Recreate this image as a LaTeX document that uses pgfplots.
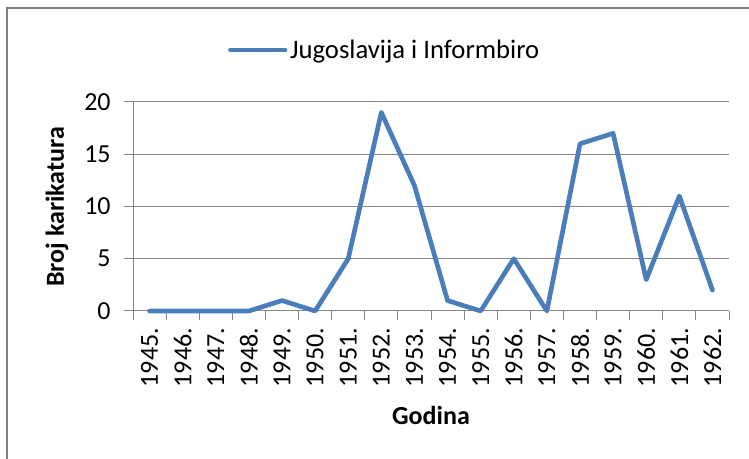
\documentclass[border=0pt]{standalone}
\usepackage{pgfplots}
\pgfplotsset{compat=1.18}
\usepackage{fontspec}
\setmainfont{Carlito}
\definecolor{serblue}{RGB}{74,126,187}
\definecolor{gridgray}{RGB}{134,134,134}
\definecolor{framegray}{RGB}{128,128,128}
\begin{document}
\begin{tikzpicture}
\useasboundingbox (0,0) rectangle (561.75pt,344.25pt);
\draw[framegray, line width=1.5pt] (5.25pt,-2pt) -- (5.25pt,338.25pt) -- (564pt,338.25pt);
\begin{axis}[
  at={(99.75pt,111pt)}, anchor=south west,
  scale only axis, width=447pt, height=156.75pt,
  xmin=-0.5, xmax=17.5, ymin=0, ymax=20,
  axis lines=left, axis line style={-, gridgray, line width=0.75pt},
  clip=false,
  xtick={-0.5,0.5,...,17.5},
  x tick label as interval,
  xticklabels={1945.,1946.,1947.,1948.,1949.,1950.,1951.,1952.,1953.,1954.,1955.,1956.,1957.,1958.,1959.,1960.,1961.,1962.},
  ytick={0,5,10,15,20},
  tick align=outside, major tick length=6.75pt,
  tick style={gridgray, line width=0.75pt},
  ymajorgrids, grid style={gridgray, line width=0.75pt},
  /pgf/number format/assume math mode=true,
  ticklabel style={font=\fontsize{19.5}{23}\selectfont},
  xticklabel style={yshift=-2.5pt, rotate=90, anchor=east},
  yticklabel style={xshift=-6.5pt},
  xlabel={Godina}, ylabel={Broj karikatura},
  label style={font=\fontsize{19.5}{23}\selectfont\bfseries},
  xlabel style={at={(axis description cs:0.5,-0.4976)}, anchor=center},
  ylabel style={at={(axis description cs:-0.1275,0.4976)}, anchor=center, rotate=0},
  legend style={draw=none, at={(axis description cs:0.4228,1.249)}, anchor=center,
    font=\fontsize{20}{24}\selectfont, inner sep=0pt},
  legend image code/.code={\draw[#1] (0pt,0pt) -- (41pt,0pt);},
]
\addplot[serblue, line width=3.5pt, line join=round, line cap=round] coordinates {
(0,0) (1,0) (2,0) (3,0) (4,1) (5,0) (6,5) (7,19) (8,12) (9,1) (10,0) (11,5) (12,0) (13,16) (14,17) (15,3) (16,11) (17,2)
};
\addlegendentry{Jugoslavija i Informbiro}
\end{axis}
\end{tikzpicture}
\end{document}
